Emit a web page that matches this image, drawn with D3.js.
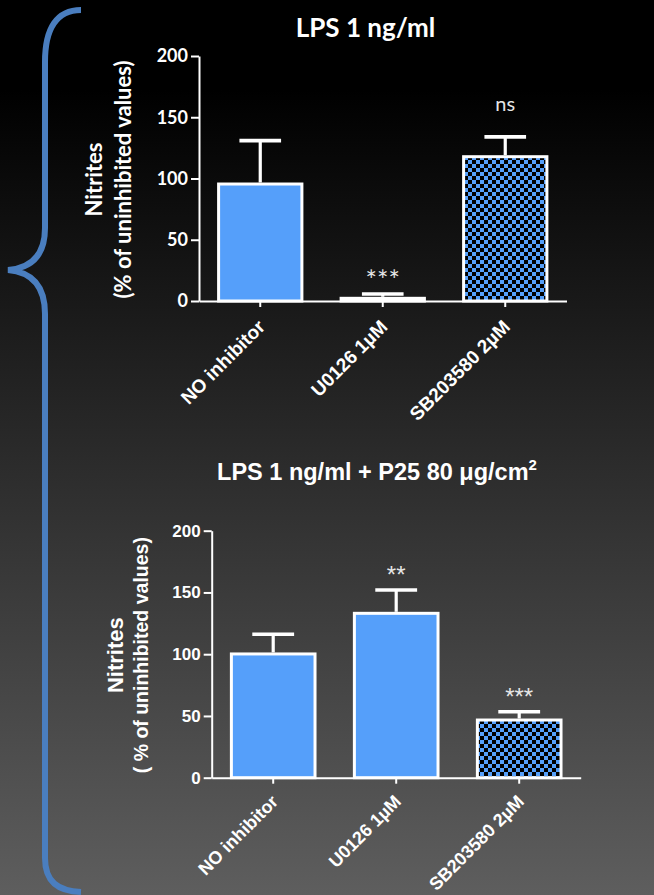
<!DOCTYPE html>
<html>
<head>
<meta charset="utf-8">
<script src="https://cdn.jsdelivr.net/npm/d3@7"></script>
<style>
  html, body { margin: 0; padding: 0; background: #000; }
  svg { display: block; }
</style>
</head>
<body>
<svg id="fig" width="654" height="895"></svg>
<script>
// Treatments shared by both panels
const treatments = ["NO inhibitor", "U0126 1µM", "SB203580 2µM"];
const checkered = [false, false, true];

// Panel A: LPS 1 ng/ml (mean and SEM, % of uninhibited)
const lpsMeans = [95.5, 2.2, 117.8];
const lpsSEM = [35.4, 3.5, 16.2];
const lpsSig = ["", "***", "ns"];

// Panel B: LPS 1 ng/ml + P25 80 µg/cm²
const p25Means = [100.2, 133.1, 46.7];
const p25SEM = [15.9, 18.9, 6.7];
const p25Sig = ["", "**", "***"];

const yTicks = [0, 50, 100, 150, 200];

const BLUE = "#559ffa";
const BRACE = "#4a7ebf";

const svg = d3.select("#fig");
const W = 654, H = 895;

// background: black at the top fading to mid grey at the bottom
const defs = svg.append("defs");
const grad = defs.append("linearGradient").attr("id", "bg")
  .attr("x1", 0).attr("y1", 0).attr("x2", 0).attr("y2", 1);
grad.append("stop").attr("offset", "0.1").attr("stop-color", "#000");
grad.append("stop").attr("offset", "1").attr("stop-color", "#5e5e5e");

// blue / black checkerboard fill
const pat = defs.append("pattern").attr("id", "checker")
  .attr("patternUnits", "userSpaceOnUse").attr("width", 8).attr("height", 8);
pat.append("rect").attr("width", 8).attr("height", 8).attr("fill", BLUE);
pat.append("rect").attr("width", 4).attr("height", 4).attr("fill", "#000");
pat.append("rect").attr("x", 4).attr("y", 4).attr("width", 4).attr("height", 4).attr("fill", "#000");

svg.append("rect").attr("width", W).attr("height", H).attr("fill", "url(#bg)");

// curly brace grouping the two panels
svg.append("path")
  .attr("d", "M81,10 C57,10 45,28 45,62 L45,228 C45,255 32,268 8,270 C32,272 45,286 45,314 L45,858 C45,882 58,891 81,892")
  .attr("fill", "none").attr("stroke", BRACE).attr("stroke-width", 6);

function drawPanel(cfg) {
  const g = svg.append("g");
  const y = d3.scaleLinear().domain([0, 200]).range([cfg.y0, cfg.y200]);
  const x = d3.scaleBand().domain(treatments)
    .range([cfg.xStart, cfg.xEnd]).paddingInner(0.32).paddingOuter(0.16);
  const bw = x.bandwidth();
  const cx = i => x(treatments[i]) + bw / 2;

  const rows = cfg.means.map((m, i) => ({ m, e: cfg.sem[i], sig: cfg.sig[i], i }));

  // bars
  g.selectAll("rect.bar").data(rows).join("rect")
    .attr("class", "bar")
    .attr("x", d => x(treatments[d.i]))
    .attr("width", bw)
    .attr("y", d => y(d.m))
    .attr("height", d => y(0) - y(d.m))
    .attr("fill", d => checkered[d.i] ? "url(#checker)" : BLUE)
    .attr("stroke", "#fff").attr("stroke-width", 3);

  // upper error bars (SEM)
  g.selectAll("line.stem").data(rows).join("line")
    .attr("class", "stem")
    .attr("x1", d => cx(d.i)).attr("x2", d => cx(d.i))
    .attr("y1", d => y(d.m) - 1.5).attr("y2", d => y(d.m + d.e))
    .attr("stroke", "#fff").attr("stroke-width", 3.2);
  g.selectAll("line.cap").data(rows).join("line")
    .attr("class", "cap")
    .attr("x1", d => cx(d.i) - bw / 4).attr("x2", d => cx(d.i) + bw / 4)
    .attr("y1", d => y(d.m + d.e)).attr("y2", d => y(d.m + d.e))
    .attr("stroke", "#fff").attr("stroke-width", 3.6);

  // significance marks
  g.selectAll("text.sig").data(rows.filter(d => d.sig)).join("text")
    .attr("class", "sig")
    .attr("x", d => cx(d.i))
    .attr("y", d => y(d.m + d.e) - (d.sig === "ns" ? 26 : cfg.starGap))
    .attr("text-anchor", "middle")
    .attr("font-family", cfg.sigFont)
    .attr("font-size", d => d.sig === "ns" ? cfg.sigSize : cfg.starSize)
    .attr("fill", "#e6e6e6")
    .text(d => d.sig);

  // y axis
  const ya = g.append("g")
    .attr("transform", `translate(${cfg.xStart},0)`)
    .call(d3.axisLeft(y).tickValues(yTicks).tickSize(8).tickSizeOuter(0).tickPadding(3));
  ya.select(".domain").attr("stroke", "#fff").attr("stroke-width", 2);
  ya.selectAll(".tick line").attr("stroke", "#fff").attr("stroke-width", 2);
  ya.selectAll(".tick text")
    .attr("fill", "#fff").attr("font-family", cfg.tickFont)
    .attr("font-weight", "bold").attr("font-size", cfg.tickSize);

  // x axis with slanted category labels
  const xa = g.append("g")
    .attr("transform", `translate(0,${cfg.y0})`)
    .call(d3.axisBottom(x).tickSize(6).tickSizeOuter(0));
  xa.select(".domain").attr("stroke", "#fff").attr("stroke-width", 2);
  xa.selectAll(".tick line").attr("stroke", "#fff").attr("stroke-width", 2);
  xa.selectAll(".tick text")
    .attr("x", 0).attr("y", 0).attr("dy", 0)
    .attr("text-anchor", "end")
    .attr("transform", `translate(6,${cfg.labelDrop}) rotate(-45)`)
    .attr("fill", "#fff").attr("font-family", "Liberation Sans, Arial, sans-serif")
    .attr("font-weight", "bold").attr("font-size", cfg.labelSize);

  // y axis title (two lines)
  const yMid = (cfg.y0 + cfg.y200) / 2;
  cfg.yTitle.forEach(t => {
    g.append("text")
      .attr("transform", `translate(${t.x},${yMid + 1}) rotate(-90)`)
      .attr("text-anchor", "middle")
      .attr("font-family", cfg.titleFont).attr("font-weight", "bold")
      .attr("font-size", t.size).attr("fill", "#fff")
      .text(t.text);
  });

  return g;
}

// Panel A
drawPanel({
  means: lpsMeans, sem: lpsSEM, sig: lpsSig,
  y0: 301, y200: 56, xStart: 199, xEnd: 566.5,
  tickFont: "Lato, sans-serif", tickSize: 18,
  sigFont: "Lato, sans-serif", sigSize: 20, starSize: 27, starGap: 4,
  labelSize: 19, labelDrop: 27,
  titleFont: "Lato, sans-serif",
  yTitle: [
    { text: "Nitrites", x: 101.5, size: 22 },
    { text: "(% of uninhibited values)", x: 130.5, size: 22 }
  ]
});
svg.append("text")
  .attr("x", 365.5).attr("y", 37)
  .attr("text-anchor", "middle")
  .attr("font-family", "Lato, sans-serif").attr("font-weight", "bold")
  .attr("font-size", 26).attr("fill", "#fff")
  .text("LPS 1 ng/ml");

// Panel B
drawPanel({
  means: p25Means, sem: p25SEM, sig: p25Sig,
  y0: 777.7, y200: 530.7, xStart: 211.7, xEnd: 580.7,
  tickFont: "Liberation Sans, Arial, sans-serif", tickSize: 17,
  sigFont: "Liberation Sans, Arial, sans-serif", sigSize: 24, starSize: 24, starGap: 7,
  labelSize: 18, labelDrop: 25,
  titleFont: "Liberation Sans, Arial, sans-serif",
  yTitle: [
    { text: "Nitrites", x: 123, size: 22 },
    { text: "( % of uninhibited values)", x: 148, size: 19.5 }
  ]
});
const t2 = svg.append("text")
  .attr("x", 377).attr("y", 480)
  .attr("text-anchor", "middle")
  .attr("font-family", "Liberation Sans, Arial, sans-serif").attr("font-weight", "bold")
  .attr("font-size", 23.5).attr("fill", "#fff");
t2.append("tspan").text("LPS 1 ng/ml + P25 80 μg/cm");
t2.append("tspan").attr("font-size", 15).attr("dy", -10).text("2");
</script>
</body>
</html>
